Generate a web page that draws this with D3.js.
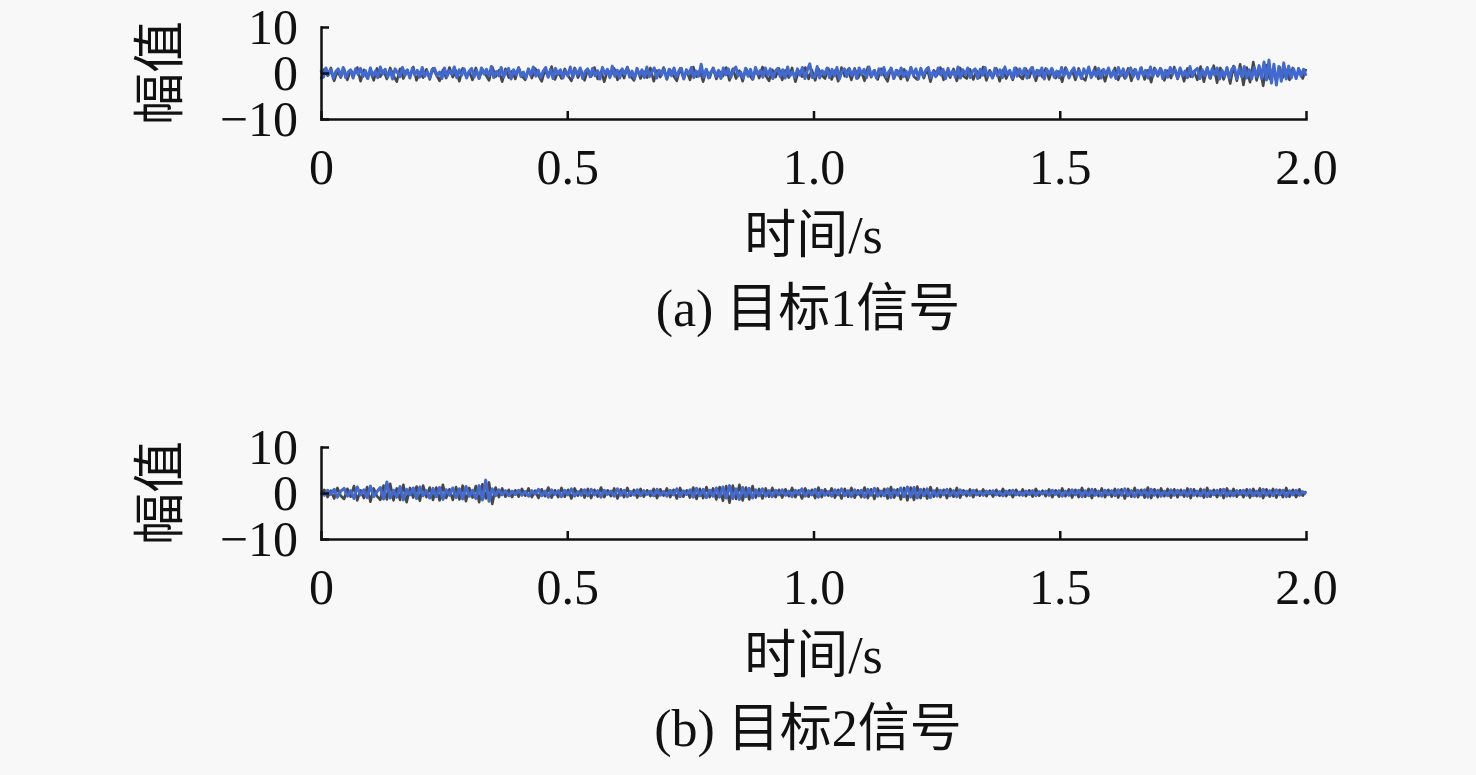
<!DOCTYPE html>
<html>
<head>
<meta charset="utf-8">
<script src="https://cdn.jsdelivr.net/npm/d3@7"></script>
<style>
  html, body { margin: 0; padding: 0; background: #f8f8f8; }
  svg { display: block; }
  .axis text { font-family: "Liberation Serif", "Times New Roman", serif; font-size: 50px; fill: #111; }
  .axis path, .axis line { stroke: #111; stroke-width: 2.5; }
  .label { font-family: "Liberation Serif", "Noto Sans CJK SC", serif; font-size: 52px; fill: #111; }
</style>
</head>
<body>
<div id="chart"></div>
<script>
// tick labels / domains
const xTicks = [0, 0.5, 1.0, 1.5, 2.0];
const xTickLabels = ["0", "0.5", "1.0", "1.5", "2.0"];
const yTicks = [-10, 0, 10];
const yTickLabels = ["\u221210", "0", "10"];
const duration = 2.0;

// (a) target 1, blue trace (400 samples over 2 s)
const target1Blue = [
  0.6,-0.9,1.1,-0.4,0.8,-1.2,0.3,0.9,-0.7,1.2,-1.0,0.2,0.7,-1.1,0.9,-0.3,1.0,-0.8,0.5,-1.2,
  1.1,-0.6,0.4,-1.0,1.3,-0.2,0.8,-0.9,0.6,-1.3,0.9,0.1,-0.8,1.2,-0.5,0.7,-1.1,1.0,-0.4,0.6,
  -0.9,1.2,-0.7,0.3,-1.1,0.8,1.0,-0.6,0.2,-1.2,1.1,-0.8,0.5,-0.3,1.3,-1.0,0.7,-0.5,0.9,-1.1,
  0.4,1.0,-0.9,0.6,-1.2,1.1,-0.2,0.8,-0.7,1.4,-1.0,0.3,-0.6,1.2,-0.9,0.5,1.0,-1.3,0.7,-0.4,
  1.1,-0.8,0.2,-1.1,0.9,-0.5,1.3,-0.7,0.6,-1.0,0.4,1.2,-0.9,0.8,-1.2,1.0,-0.3,0.7,-1.1,0.5,
  -0.6,1.3,-1.0,0.8,-0.4,1.1,-1.2,0.3,0.9,-0.8,1.0,-0.6,0.5,-1.3,1.2,-0.2,0.8,-1.0,1.5,-0.7,
  0.6,-1.1,0.9,-0.3,1.2,-0.9,0.4,-1.2,1.0,-0.5,0.7,-1.0,1.3,-0.8,0.2,1.1,-1.1,0.6,-0.4,0.9,
  -1.2,0.8,-0.6,1.1,-0.9,0.5,1.0,-1.3,0.7,-0.2,1.2,-1.0,0.4,-0.7,1.9,-0.9,0.8,-1.1,0.3,1.0,
  -0.8,0.6,-1.2,1.1,-0.4,0.9,-1.0,0.5,1.3,-0.6,0.2,-1.1,1.0,-0.7,0.8,-1.3,1.2,-0.3,0.6,-0.9,
  1.1,-0.5,0.9,-1.2,0.4,1.0,-0.8,0.7,-1.1,1.3,-0.6,0.3,-1.0,0.9,-0.4,1.2,-1.2,0.6,2.0,-1.0,
  -0.9,1.4,-1.1,0.5,-0.3,1.1,-1.0,0.8,-0.6,1.2,-1.3,0.4,0.9,-0.8,1.0,-0.5,0.7,-1.2,1.1,-0.2,
  0.8,-1.0,1.3,-0.7,0.5,-1.1,0.9,-0.4,1.2,-0.9,0.3,1.0,-1.2,0.6,-0.6,1.1,-0.8,0.4,-1.0,1.2,
  -0.5,0.9,-1.3,1.0,-0.7,0.6,1.2,-1.0,0.3,-0.8,1.1,-0.4,0.8,-1.2,1.0,-0.6,0.5,-0.9,1.3,-1.1,
  0.7,-0.3,1.1,-1.0,0.4,0.9,-1.2,0.8,-0.5,1.2,-0.8,0.2,-1.1,1.0,-0.6,0.7,-1.0,1.3,-0.4,0.6,
  -1.2,1.1,-0.7,0.9,-0.3,1.0,-1.1,0.5,1.2,-0.9,0.6,-0.5,1.1,-1.3,0.8,-0.2,1.0,-0.9,0.4,-1.0,
  1.2,-0.6,0.8,-1.1,0.3,1.1,-0.8,0.6,-1.2,0.9,-0.4,1.3,-1.0,0.5,-0.7,1.0,-1.1,0.8,-0.3,1.1,
  -0.9,0.5,-1.2,1.2,-0.6,0.9,-1.0,0.4,1.1,-0.8,0.7,-1.3,1.0,-0.5,0.6,-1.1,1.3,-0.7,0.8,-0.4,
  1.0,-1.2,0.6,-0.9,1.2,-0.3,0.8,-1.1,1.1,-0.6,0.4,-1.0,1.4,-0.8,0.5,1.0,-1.2,0.7,-0.6,1.2,
  -1.0,0.9,-0.4,1.1,-1.3,0.6,-0.8,1.2,-1.1,0.9,1.3,-1.2,1.0,-0.9,1.4,-1.1,0.7,-1.3,1.2,-0.8,
  1.6,-1.2,2.4,-1.5,2.8,-2.2,1.9,-2.6,1.4,-1.8,2.2,-1.3,1.5,-1.1,0.9,-1.2,1.0,-0.7,0.8,-0.6
];

// (a) target 1, dark grey trace underneath (300 samples)
const target1Grey = [
  -1.4,0.8,-0.6,1.1,-1.7,0.4,-1.0,0.9,-1.5,0.6,-0.3,1.2,-1.8,0.7,-1.1,0.3,-1.6,1.0,-0.8,0.5,
  -1.3,1.1,-0.5,-1.9,0.9,-1.2,0.6,-0.7,1.3,-1.6,0.2,-1.0,0.8,-1.4,1.0,-0.4,-1.7,0.7,-1.1,1.2,
  -0.9,0.5,-1.8,1.0,-0.6,0.3,-1.5,1.1,-1.2,0.8,-0.4,-1.6,1.3,-0.8,0.6,-1.9,0.9,-1.0,0.4,-1.3,
  1.2,-0.7,-1.5,0.8,-1.1,1.0,-0.5,-1.8,0.6,-0.9,1.4,-1.4,0.3,-1.2,0.9,-0.6,-1.7,1.1,-1.0,0.5,
  -1.6,0.8,-0.8,1.2,-1.3,0.4,-1.9,0.7,-0.5,1.0,-1.5,0.6,-1.1,1.3,-0.7,-1.6,0.9,-1.2,0.3,-1.0,
  1.1,-1.8,0.5,-0.9,1.2,-1.4,0.7,-0.6,-1.7,1.0,-1.1,0.4,-1.5,1.3,-0.8,0.6,-1.9,0.8,-1.0,1.1,
  -1.3,0.3,-0.7,1.2,-1.6,0.9,-1.2,0.5,-1.8,1.0,-0.4,-1.4,0.8,-1.1,1.3,-0.6,-1.7,0.7,-0.9,1.0,
  -1.5,0.6,-1.0,1.1,-1.9,0.4,-0.8,1.2,-1.3,0.7,-1.6,0.9,-0.5,-1.2,1.0,-1.4,0.5,-1.8,1.2,-0.7,
  0.8,-1.5,1.0,-1.1,0.3,-1.7,1.3,-0.9,0.6,-1.4,0.9,-0.6,-1.8,1.1,-1.0,0.5,-1.3,0.8,-1.6,1.2,
  -0.8,-1.4,0.7,-1.1,1.0,-1.9,0.6,-0.5,1.2,-1.5,0.4,-1.0,0.9,-1.7,1.1,-0.7,-1.2,0.8,-1.4,0.5,
  -1.0,1.3,-1.6,0.6,-0.8,1.0,-1.8,0.7,-1.2,0.4,-1.5,1.1,-0.6,-1.3,0.9,-1.0,1.2,-1.7,0.5,-0.9,
  1.0,-1.4,0.8,-1.1,0.3,-1.9,1.2,-0.7,0.6,-1.5,1.0,-1.0,-1.6,0.9,-0.8,1.3,-1.3,0.5,-1.8,0.7,
  -0.6,1.1,-1.5,0.4,-1.2,1.0,-1.7,0.8,-0.9,1.2,-1.4,0.6,-2.0,1.1,-0.7,0.9,-1.6,0.5,-1.1,1.3,
  -1.3,0.7,-1.8,1.0,-0.8,0.4,-1.5,1.4,-1.9,0.9,-1.2,1.6,-2.1,1.1,-1.4,0.8,-2.3,1.5,-1.7,1.9,
  -2.6,1.2,-2.0,2.4,-1.6,1.0,-2.8,1.7,-1.3,0.9,-1.8,1.3,-1.0,0.7,-1.5,1.1,-0.8,0.6,-1.2,0.9
];

// (b) target 2, blue trace (300 samples)
const target2Blue = [
  0.2,-0.5,0.6,-0.3,0.8,-0.9,0.4,1.0,-0.7,0.5,-1.2,1.3,-0.4,0.7,-1.0,1.5,-0.8,0.3,1.2,-1.3,
  2.4,-1.1,0.6,-0.9,1.4,-1.5,0.8,-0.4,1.1,-1.2,1.3,-0.6,0.5,-1.1,1.0,-0.8,1.2,-1.4,0.7,-0.5,
  1.1,-1.0,0.9,-1.3,1.4,-0.7,0.6,-1.2,1.6,-1.5,2.8,-1.8,0.9,-0.6,0.7,-0.4,0.5,-0.6,0.4,-0.3,
  0.6,-0.5,0.3,-0.7,0.5,-0.2,0.8,-0.6,0.4,-0.9,0.7,-0.3,0.5,-0.8,0.6,-0.4,0.9,-0.7,0.3,-0.5,
  0.7,-0.6,0.8,-0.4,0.5,-0.9,0.6,-0.3,0.4,-0.7,0.9,-0.5,0.6,-0.8,0.3,-0.4,0.7,-0.6,0.5,-0.3,
  0.4,-0.6,0.8,-0.5,0.3,-0.7,0.6,-0.4,0.9,-0.8,0.5,-0.3,0.7,-0.9,1.0,-0.6,0.8,-1.0,0.6,-0.7,
  1.1,-0.9,1.3,-1.1,1.6,-1.2,0.9,-1.4,1.2,-0.8,1.0,-1.1,0.7,-0.6,0.9,-0.7,0.5,-0.8,0.6,-0.4,
  0.7,-0.5,0.4,-0.8,0.6,-0.3,0.9,-0.7,0.5,-0.4,0.8,-0.9,0.6,-0.5,0.3,-0.7,0.7,-0.4,0.9,-0.6,
  0.5,-0.8,0.7,-0.3,0.6,-0.9,0.8,-0.5,1.0,-0.7,0.4,-0.6,0.9,-1.0,0.7,-0.5,1.1,-0.8,1.3,-0.9,
  1.2,-1.1,0.8,-0.6,0.9,-1.0,0.5,-0.7,0.6,-0.4,0.8,-0.6,0.5,-0.8,0.7,-0.3,0.4,-0.5,0.6,-0.4,
  0.3,-0.5,0.4,-0.2,0.5,-0.4,0.3,-0.6,0.4,-0.3,0.6,-0.4,0.2,-0.5,0.4,-0.3,0.5,-0.6,0.3,-0.2,
  0.4,-0.5,0.6,-0.3,0.5,-0.7,0.4,-0.5,0.7,-0.4,0.6,-0.8,0.5,-0.6,0.8,-0.5,0.4,-0.7,0.6,-0.4,
  0.5,-0.6,0.7,-0.5,0.9,-0.6,0.5,-0.8,0.6,-0.4,0.7,-0.9,0.8,-0.5,0.6,-0.7,0.4,-0.6,0.7,-0.5,
  0.6,-0.4,0.5,-0.7,0.8,-0.5,0.4,-0.6,0.7,-0.8,0.5,-0.4,0.6,-0.5,0.8,-0.7,0.4,-0.6,0.5,-0.3,
  0.6,-0.5,0.7,-0.6,0.4,-0.7,0.8,-0.5,0.5,-0.6,0.7,-0.4,0.6,-0.8,0.5,-0.4,0.6,-0.5,0.3,-0.2
];

// (b) target 2, dark grey trace underneath (300 samples)
const target2Grey = [
  -0.4,0.7,-0.9,0.5,-1.2,1.1,-0.6,-1.3,0.9,-0.8,1.5,-1.6,0.6,-1.1,1.3,-1.9,1.0,-0.7,-1.5,1.6,
  -1.4,2.0,-1.6,1.0,-1.5,1.8,-2.0,1.1,-1.0,1.4,-1.7,1.6,-0.9,1.2,-1.5,1.2,-1.6,1.8,-1.1,0.8,
  -1.5,1.3,-1.4,1.6,-1.8,1.1,-1.0,1.5,-2.0,1.9,-1.2,2.3,-2.4,1.2,-0.9,1.0,-0.8,0.7,-0.9,0.6,
  -0.8,0.9,-0.6,1.0,-0.9,0.5,-1.1,0.8,-0.7,1.2,-1.0,0.6,-0.9,1.1,-0.8,0.7,-1.2,1.0,-0.6,0.8,
  -1.0,0.9,-1.1,0.7,-0.8,1.2,-0.9,0.6,-0.7,1.0,-1.2,0.8,-0.9,1.1,-0.6,0.7,-1.0,0.9,-0.8,0.6,
  -0.7,0.9,-1.1,0.8,-0.6,1.0,-0.9,0.7,-1.2,1.1,-0.8,0.6,-1.0,1.2,-1.3,0.9,-1.1,1.3,-0.9,1.0,
  -1.4,1.3,-1.7,1.5,-2.1,1.6,-1.3,1.8,-1.6,1.2,-1.4,1.5,-1.0,0.9,-1.2,1.0,-0.8,1.1,-0.9,0.7,
  -1.0,0.8,-0.7,1.1,-0.9,0.6,-1.2,1.0,-0.8,0.7,-1.1,1.2,-0.9,0.8,-0.6,1.0,-1.0,0.7,-1.2,0.9,
  -0.8,1.1,-1.0,0.6,-0.9,1.2,-1.1,0.8,-1.3,1.0,-0.7,0.9,-1.2,1.3,-1.0,0.8,-1.4,1.1,-1.6,1.2,
  -1.5,1.4,-1.1,0.9,-1.2,1.3,-0.8,1.0,-0.9,0.7,-1.1,0.9,-0.8,1.1,-1.0,0.6,-0.7,0.8,-0.9,0.7,
  -0.6,0.8,-0.7,0.5,-0.8,0.7,-0.6,0.9,-0.7,0.6,-0.9,0.7,-0.5,0.8,-0.7,0.6,-0.8,0.9,-0.6,0.5,
  -0.7,0.8,-0.9,0.6,-0.8,1.0,-0.7,0.8,-1.0,0.7,-0.9,1.1,-0.8,0.9,-1.1,0.8,-0.7,1.0,-0.9,0.7,
  -0.8,0.9,-1.0,0.8,-1.2,0.9,-0.8,1.1,-0.9,0.7,-1.0,1.2,-1.1,0.8,-0.9,1.0,-0.7,0.9,-1.0,0.8,
  -0.9,0.7,-0.8,1.0,-1.1,0.8,-0.7,0.9,-1.0,1.1,-0.8,0.7,-0.9,0.8,-1.1,1.0,-0.7,0.9,-0.8,0.6,
  -0.9,0.8,-1.0,0.9,-0.7,1.0,-1.1,0.8,-0.8,0.9,-1.0,0.7,-0.9,1.1,-0.8,0.7,-0.9,0.8,-0.6,0.4
];

const panels = [
  {grey: target1Grey, blue: target1Blue, top: 27, bottom: 119, caption: "(a) 目标1信号"},
  {grey: target2Grey, blue: target2Blue, top: 447, bottom: 539, caption: "(b) 目标2信号"}
];

const width = 1476, height = 775;
const left = 321, right = 1306;

const svg = d3.select("#chart").append("svg")
  .attr("width", width)
  .attr("height", height);

const x = d3.scaleLinear().domain([0, duration]).range([left, right]);

panels.forEach(p => {
  const y = d3.scaleLinear().domain([-10, 10]).range([p.bottom, p.top]);
  const g = svg.append("g");

  // traces: grey first, blue on top
  const line = series => d3.line()
    .x((d, i) => x(i * duration / (series.length - 1)))
    .y(d => y(d))(series);

  g.append("path")
    .attr("d", line(p.grey))
    .attr("fill", "none")
    .attr("stroke", "#474747")
    .attr("stroke-width", 2.6)
    .attr("stroke-linejoin", "round");

  g.append("path")
    .attr("d", line(p.blue))
    .attr("fill", "none")
    .attr("stroke", "#4169cf")
    .attr("stroke-width", 3)
    .attr("stroke-linejoin", "round");

  // axes, ticks pointing inward
  g.append("g")
    .attr("class", "axis")
    .attr("transform", `translate(0,${p.bottom})`)
    .call(d3.axisBottom(x)
      .tickValues(xTicks)
      .tickFormat((d, i) => xTickLabels[i])
      .tickSize(-8)
      .tickSizeOuter(0)
      .tickPadding(29));

  g.append("g")
    .attr("class", "axis")
    .attr("transform", `translate(${left},0)`)
    .call(d3.axisLeft(y)
      .tickValues(yTicks)
      .tickFormat((d, i) => yTickLabels[i])
      .tickSize(-8)
      .tickSizeOuter(0)
      .tickPadding(23));

  g.selectAll(".axis .domain").attr("stroke-linecap", "square");

  // y label
  const yMid = (p.top + p.bottom) / 2;
  g.append("text")
    .attr("class", "label")
    .attr("transform", `translate(178,${yMid}) rotate(-90)`)
    .attr("text-anchor", "middle")
    .text("幅值");

  // x label and caption
  g.append("text")
    .attr("class", "label")
    .attr("x", (left + right) / 2)
    .attr("y", p.bottom + 134)
    .attr("text-anchor", "middle")
    .text("时间/s");

  g.append("text")
    .attr("class", "label")
    .attr("x", 808)
    .attr("y", p.bottom + 207)
    .attr("text-anchor", "middle")
    .text(p.caption);
});
</script>
</body>
</html>
